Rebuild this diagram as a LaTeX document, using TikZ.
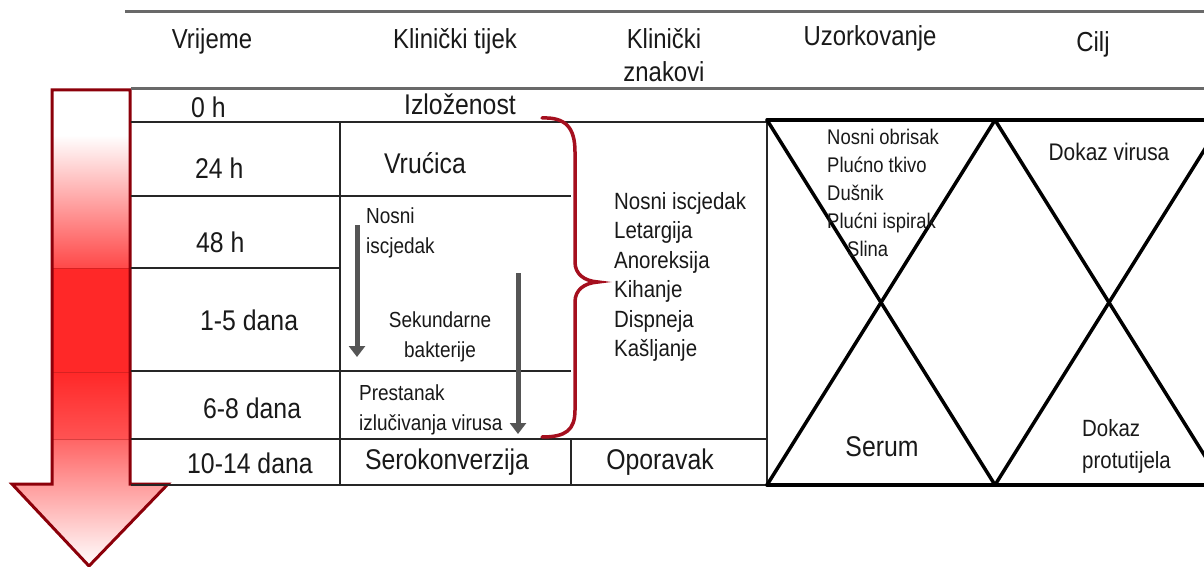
\documentclass[tikz,border=0pt]{standalone}
\usepackage{fontspec}
\setmainfont[FakeStretch=0.87]{Liberation Sans}
\usetikzlibrary{arrows.meta}
\definecolor{arrowred}{RGB}{255,40,40}
\definecolor{arrowdark}{RGB}{140,0,10}
\definecolor{bracered}{RGB}{165,15,30}
\definecolor{grayarrow}{RGB}{85,85,85}
\definecolor{rulegray}{RGB}{105,105,105}
\definecolor{txt}{RGB}{25,25,25}
\tikzset{
  grid/.style={line width=1.3pt, black!85},
  hour/.style={line width=3.5pt, black, line cap=round},
  rulebar/.style={line width=3pt, rulegray},
  lbl/.style={inner sep=0pt, text=txt},
  hdr/.style={lbl, font=\fontsize{27.5}{33}\selectfont},
  big/.style={lbl, font=\fontsize{28.5}{30}\selectfont},
  mid/.style={lbl, font=\fontsize{23.5}{29.5}\selectfont, align=left},
  small/.style={lbl, font=\fontsize{21.8}{29.5}\selectfont, align=left},
  samp/.style={lbl, font=\fontsize{21.2}{28}\selectfont, align=left},
  grarrow/.style={line width=5pt, grayarrow, -{Triangle[width=16pt,length=11pt]}},
}
\begin{document}
\begin{tikzpicture}[x=1pt,y=-1pt]
\useasboundingbox (0,0) rectangle (1204,567);
\fill[white] (0,0) rectangle (1204,567);

% big red time arrow
\begin{scope}
\clip (52,90) -- (130,90) -- (130,484) -- (168,484) -- (89,566) -- (12,484) -- (52,484) -- cycle;
\fill[white] (0,90) rectangle (200,135);
\shade[top color=white, bottom color=arrowred!85!white] (0,135) rectangle (200,268);
\fill[arrowred] (0,268) rectangle (200,372);
\shade[top color=arrowred, bottom color=arrowred!80!white] (0,372) rectangle (200,439);
\shade[top color=arrowred!72!white, bottom color=white] (0,439) rectangle (200,566);
\draw[arrowred!70!black, line width=0.8pt, opacity=0.5] (52,268) -- (130,268) (52,372) -- (130,372) (52,439) -- (130,439);
\end{scope}
\draw[arrowdark, line width=3pt, line join=miter] (52,90) -- (130,90) -- (130,484) -- (168,484) -- (89,566) -- (12,484) -- (52,484) -- cycle;

% header rules
\draw[rulebar] (125,12) -- (1204,12);
\draw[rulebar] (131,89) -- (1204,89);

% table grid
\draw[grid] (131,122) -- (767,122);
\draw[grid] (131,196) -- (571,196);
\draw[grid] (131,268) -- (340,268);
\draw[grid] (131,371) -- (571,371);
\draw[grid] (131,439) -- (767,439);
\draw[grid] (131,485) -- (767,485);
\draw[grid] (340,122) -- (340,485);
\draw[grid] (571,439) -- (571,485);
\draw[grid] (767,122) -- (767,485);

% hourglasses
\begin{scope}
\clip (760,100) rectangle (1204,500);
\draw[hour] (767,120) -- (1230,120);
\draw[hour] (767,485) -- (1230,485);
\draw[hour] (767,120) -- (995,485);
\draw[hour] (995,120) -- (767,485);
\draw[hour] (995,120) -- (1223,485);
\draw[hour] (1223,120) -- (995,485);
\end{scope}

% red brace
\draw[bracered, line width=3.5pt, line cap=round]
  (542,118) .. controls (566,117) and (575,128) .. (575,152) -- (575,262)
  .. controls (575,274) and (584,281) .. (598,282)
  .. controls (584,283) and (575,290) .. (575,302) -- (575,410)
  .. controls (575,430) and (566,437) .. (542,437);

% headers
\node[hdr] (hVr) at (212,41) {Vrijeme};
\node[hdr] (hKt) at (455,41) {Klinički tijek};
\node[hdr, align=center] (hKz) at (664,55) {Klinički\\znakovi};
\node[hdr] (hUz) at (870,38) {Uzorkovanje};
\node[hdr] (hCi) at (1093,44) {Cilj};

% time column
\node[big, anchor=west] (t0) at (191,107) {0 h};
\node[big, anchor=west] (t24) at (195,168) {24 h};
\node[big, anchor=west] (t48) at (196,242) {48 h};
\node[big, anchor=west] (t15) at (200,320) {1-5 dana};
\node[big, anchor=west] (t68) at (203,408) {6-8 dana};
\node[big, anchor=west] (t1014) at (187,463) {10-14 dana};

% clinical course column
\node[big] (izl) at (460,104) {Izloženost};
\node[big] (vru) at (425,163) {Vrućica};
\node[small, anchor=west] (nos) at (366,233) {Nosni\\iscjedak};
\node[small, align=center] (sek) at (440,337) {Sekundarne\\bakterije};
\node[small, anchor=west] (pre) at (359,410) {Prestanak\\izlučivanja virusa};
\node[big] (sero) at (447,462) {Serokonverzija};

% gray arrows
\coordinate (a1s) at (357,225);
\coordinate (a1e) at (357,357);
\coordinate (a2s) at (518,273);
\coordinate (a2e) at (518,434);
\draw[grarrow] (a1s) -- (a1e);
\draw[grarrow] (a2s) -- (a2e);

% clinical signs
\node[mid, anchor=north west] (sig) at (614,192) {Nosni iscjedak\\Letargija\\Anoreksija\\Kihanje\\Dispneja\\Kašljanje};
\node[big] (opo) at (660,462) {Oporavak};

% sampling
\node[samp, anchor=north west] (smp) at (827,129) {Nosni obrisak\\Plućno tkivo\\Dušnik\\Plućni ispirak\\\hspace*{20pt}Slina};
\node[big] (ser) at (882,447) {Serum};

% target
\node[mid, font=\fontsize{24}{29}\selectfont] (dv) at (1109,152) {Dokaz virusa};
\node[mid, anchor=west, font=\fontsize{23.5}{32}\selectfont] (dp) at (1082,446) {Dokaz\\protutijela};
\end{tikzpicture}
\end{document}
